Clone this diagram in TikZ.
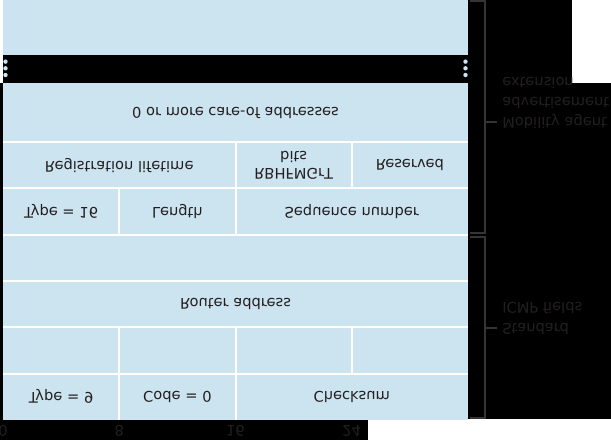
\documentclass[tikz,border=0pt]{standalone}
\usepackage{fontspec}
\setmainfont{DejaVu Sans}
\usetikzlibrary{positioning, calc}
\definecolor{ICMPBlue}{RGB}{204, 227, 240}
\definecolor{FieldText}{RGB}{35, 31, 32}
\definecolor{BracketGrey}{RGB}{52, 52, 52}

\begin{document}
\begin{tikzpicture}[
    % Global Styles (whole figure is mirrored top to bottom)
    x=0.75pt, y=0.75pt, yscale=-1,
    every node/.append style={transform shape},
    field/.style={
        rectangle,
        fill=ICMPBlue,         % Light blue cells
        text=FieldText,        % Near black text
        align=center,
        inner sep=0pt,
        outer sep=0pt,
        minimum height=34.73pt,
        font=\fontsize{11}{13}\selectfont
    },
    byte/.style={field, minimum width=87.19pt},
    halfword/.style={field, minimum width=174.38pt},
    word/.style={field, minimum width=348.75pt},
    gridline/.style={
        draw=white,
        line width=1.5pt
    },
    bracket/.style={
        draw=BracketGrey,
        line width=0.8pt
    },
    side_text/.style={
        text=FieldText,
        align=left,
        anchor=north west,
        inner sep=0pt,
        font=\fontsize{11}{15.2}\selectfont
    },
    bit_label/.style={
        text=FieldText,
        inner sep=0pt,
        font=\fontsize{11}{13}\selectfont
    }
]

    % --- Background ---
    \useasboundingbox (0,0) rectangle (611,440);
    \fill[black] (0,0) rectangle (611,440);
    \fill[white] (0,0) rectangle (3,83);
    \fill[white] (572,0) rectangle (611,83);
    \fill[white] (368,419) rectangle (611,440);

    % --- Standard ICMP fields ---
    \node[byte, anchor=north west] (type9) at (3,420) {Type = 9};
    \node[byte, right=0pt of type9] (code0) {Code = 0};
    \node[halfword, right=0pt of code0] (checksum) {Checksum};

    \node[byte, below=0pt of type9] (spare1) {};
    \node[byte, right=0pt of spare1] (spare2) {};
    \node[byte, right=0pt of spare2] (spare3) {};
    \node[byte, right=0pt of spare3] (spare4) {};

    \node[word, below=0pt of spare1.south west, anchor=north west] (router) {Router address};
    \node[word, below=0pt of router] (spare5) {};

    % --- Mobility agent advertisement extension ---
    \node[byte, below=0pt of spare5.south west, anchor=north west] (type16) {Type = 16};
    \node[byte, right=0pt of type16] (length) {Length};
    \node[halfword, right=0pt of length] (seqnum) {Sequence number};

    \node[halfword, below=0pt of type16.south west, anchor=north west] (lifetime) {Registration lifetime};
    \node[byte, right=0pt of lifetime] (flags) {RBHFMGrT\\bits};
    \node[byte, right=0pt of flags] (reserved) {Reserved};

    \node[word, minimum height=44.4pt, below=0pt of lifetime.south west, anchor=north west] (careof) {0 or more care-of addresses};
    \node[word, minimum height=41.25pt, below=21pt of careof] (more) {};

    % Continuation dots in the gap
    \foreach \d in {0,1,2} {
        \fill[ICMPBlue] ($(careof.south west)+(2.5,-8-6.67*\d)$) circle (2.2);
        \fill[ICMPBlue] ($(careof.south east)+(-2.5,-8-6.67*\d)$) circle (2.2);
    }

    % --- White grid between cells ---
    \draw[gridline] (type9.south west) -- (checksum.south east);
    \draw[gridline] (spare1.south west) -- (spare4.south east);
    \draw[gridline] (router.south west) -- (router.south east);
    \draw[gridline] (spare5.south west) -- (spare5.south east);
    \draw[gridline] (type16.south west) -- (seqnum.south east);
    \draw[gridline] (lifetime.south west) -- (reserved.south east);
    \foreach \cell in {type9, code0, spare1, spare2, spare3, type16, length, lifetime, flags}
        \draw[gridline] (\cell.north east) -- (\cell.south east);

    % --- Brackets on the right ---
    \coordinate (ext_top) at (470,1);
    \coordinate (ext_bot) at (470,233);
    \coordinate (ext_mid) at (485,122);
    \coordinate (std_top) at (470,237);
    \coordinate (std_bot) at (470,418);
    \coordinate (std_mid) at (485,328);

    \draw[bracket] (ext_top) -- ++(15,0) |- (ext_bot);
    \draw[bracket] (std_top) -- ++(15,0) |- (std_bot);
    \draw[bracket] (ext_mid) -- ++(12,0);
    \draw[bracket] (std_mid) -- ++(12,0);

    \node[side_text] (ext_label) at (502,129) {Mobility agent\\advertisement\\extension};
    \node[side_text] (std_label) at (502,334.5) {Standard\\ICMP fields};

    % --- Bit positions ---
    \foreach \b in {0,8,16,24}
        \node[bit_label] (bit\b) at (3+14.53125*\b, 431) {\b};

\end{tikzpicture}
\end{document}
